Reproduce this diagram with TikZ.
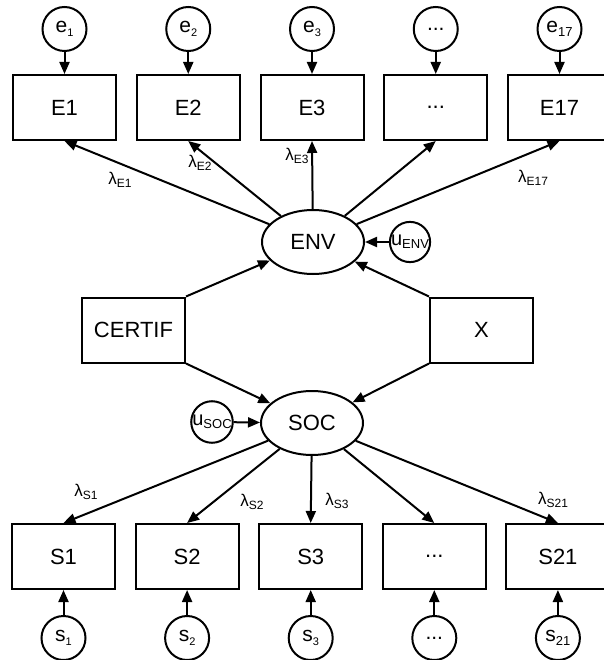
\documentclass[tikz,border=0pt]{standalone}
\usepackage{fontspec}
\setmainfont{Liberation Sans}
\usetikzlibrary{shapes.geometric,arrows.meta}
\tikzset{
  obs/.style={draw, line width=2pt, minimum width=103pt, minimum height=65pt, font=\fontsize{22}{22}\selectfont},
  err/.style={draw, circle, line width=2pt, minimum size=44pt, inner sep=0pt, font=\fontsize{21}{21}\selectfont},
  res/.style={err, minimum size=40pt, font=\fontsize{20}{20}\selectfont},
  lat/.style={draw, ellipse, line width=2pt, minimum width=102pt, minimum height=64pt, font=\fontsize{22}{22}\selectfont},
  arr/.style={line width=2pt, -{Triangle[length=12pt,width=10pt]}},
  lam/.style={inner sep=0pt, font=\fontsize{17}{17}\selectfont}
}
\newcommand\sub[2]{\raisebox{-0.3ex}{\fontsize{#1}{#1}\selectfont #2}}
\newcommand\lab[1]{λ\sub{12}{#1}}
\def\dd{...}
\begin{document}
\begin{tikzpicture}[x=1pt,y=-1pt]
\useasboundingbox (0,0) rectangle (603,660);
% indicators of ENV
\foreach \t/\e [count=\i] in {E1/e\sub{11}{1},E2/e\sub{11}{2},E3/e\sub{11}{3},\dd/\dd,E17/e\sub{13}{17}} {
  \node[obs] (E\i) at (64.5+123.75*\i-123.75,107.5) {\t};
  \node[err] (e\i) at (64.5+123.75*\i-123.75,29) {\e};
  \draw[arr] (e\i) -- (E\i);
}
% indicators of SOC
\foreach \t/\e [count=\i] in {S1/s\sub{11}{1},S2/s\sub{11}{2},S3/s\sub{11}{3},\dd/\dd,S21/s\sub{13}{21}} {
  \node[obs] (S\i) at (63.5+123.6*\i-123.6,556.5) {\t};
  \node[err] (s\i) at (63.5+123.6*\i-123.6,638) {\e};
  \draw[arr] (s\i) -- (S\i);
}
\node[lat] (ENV) at (313,242) {ENV};
\node[lat] (SOC) at (312,423) {SOC};
\node[res] (uENV) at (410,242) {u\sub{13}{ENV}};
\node[res] (uSOC) at (212,422) {u\sub{13}{SOC}};
\node[obs] (CERTIF) at (133.5,330) {CERTIF};
\node[obs] (X) at (481.5,330) {X};
\foreach \i in {1,...,5} {
  \draw[arr] (ENV) -- (E\i.south);
  \draw[arr] (SOC) -- (S\i.north);
}
\draw[arr] (uENV) -- (ENV);
\draw[arr] (uSOC) -- (SOC);
\draw[arr] (CERTIF.north east) -- (ENV);
\draw[arr] (X.north west) -- (ENV);
\draw[arr] (CERTIF.south east) -- (SOC);
\draw[arr] (X.south west) -- (SOC);
% loadings
\node[lam] (lE1) at (120,180) {\lab{E1}};
\node[lam] (lE2) at (200,163) {\lab{E2}};
\node[lam] (lE3) at (297,156) {\lab{E3}};
\node[lam] (lE17) at (533,178) {\lab{E17}};
\node[lam] (lS1) at (86,492) {\lab{S1}};
\node[lam] (lS2) at (252,502) {\lab{S2}};
\node[lam] (lS3) at (337,501) {\lab{S3}};
\node[lam] (lS21) at (553,500) {\lab{S21}};
\end{tikzpicture}
\end{document}
